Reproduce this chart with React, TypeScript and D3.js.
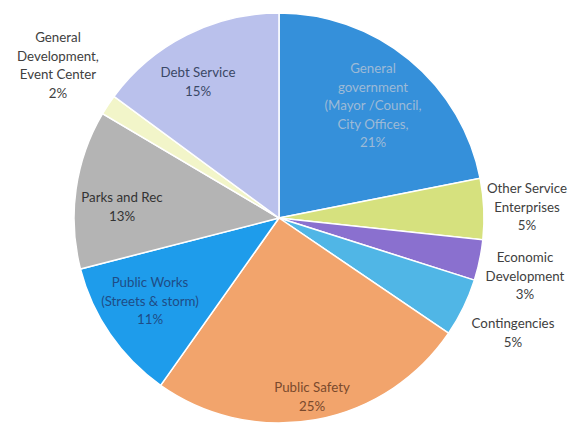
import React from "react";
import * as d3 from "d3";

const categories = [
  "General government",
  "Other Service Enterprises",
  "Economic Development",
  "Contingencies",
  "Public Safety",
  "Public Works",
  "Parks and Rec",
  "General Development",
  "Debt Service",
];
// slice sizes (labels show rounded values)
const values = [21.9, 4.8, 3.2, 4.6, 25.3, 11.2, 12.5, 1.6, 14.9];
const labelLines = [
  ["General", "government", "(Mayor /Council,", "City Offices,", "21%"],
  ["Other Service", "Enterprises", "5%"],
  ["Economic", "Development", "3%"],
  ["Contingencies", "5%"],
  ["Public Safety", "25%"],
  ["Public Works", "(Streets & storm)", "11%"],
  ["Parks and Rec", "13%"],
  ["General", "Development,", "Event Center", "2%"],
  ["Debt Service", "15%"],
];
const colors = [
  "#3590DA",
  "#D6E17E",
  "#8A70CF",
  "#50B6E6",
  "#F2A46C",
  "#1E9CEB",
  "#B4B4B4",
  "#F2F5C9",
  "#BAC1EC",
];
const textColors = [
  "#9DBAD6",
  "#404040",
  "#404040",
  "#404040",
  "#7A4A2C",
  "#1E4C86",
  "#333333",
  "#404040",
  "#3A4866",
];
// label anchor positions (center x, first-line y)
const labelPos: [number, number][] = [
  [373, 68],
  [527, 188],
  [525, 257],
  [513, 323],
  [312, 387],
  [150, 282],
  [122, 197],
  [58, 37],
  [198, 72],
];

const W = 571;
const H = 425;
const cx = 279;
const cy = 218;
const R = 205;

export default function App() {
  const pie = d3
    .pie<number>()
    .sort(null)
    .value((d) => d)
    .startAngle(0)
    .endAngle(2 * Math.PI);
  const arcs = pie(values);
  const arc = d3.arc<d3.PieArcDatum<number>>().innerRadius(0).outerRadius(R);
  const lineH = 18.5;

  return (
    <svg
      width={W}
      height={H}
      style={{ position: "absolute", left: 0, top: 0, background: "#fff" }}
      fontFamily="Lato, 'Open Sans', sans-serif"
      fontSize={13.3}
    >
      <g transform={`translate(${cx},${cy})`}>
        {arcs.map((a, i) => (
          <path
            key={categories[i]}
            d={arc(a) || ""}
            fill={colors[i]}
            stroke="#ffffff"
            strokeWidth={1.5}
          />
        ))}
      </g>
      {labelLines.map((lines, i) => (
        <text
          key={categories[i] + "-lbl"}
          textAnchor="middle"
          fill={textColors[i]}
          dominantBaseline="central"
        >
          {lines.map((ln, j) => (
            <tspan key={j} x={labelPos[i][0]} y={labelPos[i][1] + j * lineH}>
              {ln}
            </tspan>
          ))}
        </text>
      ))}
    </svg>
  );
}
